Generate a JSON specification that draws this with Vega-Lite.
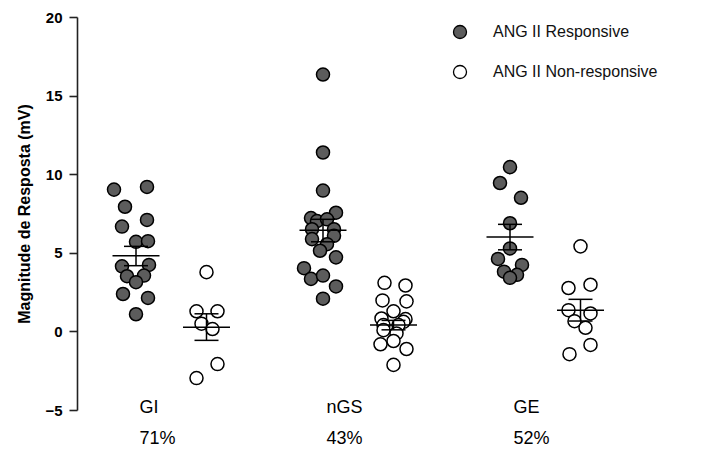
{
  "$schema": "https://vega.github.io/schema/vega-lite/v6.json",
  "width": 728,
  "height": 450,
  "autosize": {"type": "fit", "contains": "padding"},
  "padding": {"left": 16, "top": 10, "right": 90, "bottom": 3},
  "background": "white",
  "config": {
    "font": "Liberation Sans",
    "view": {"stroke": null},
    "axisY": {
      "domain": true, "domainColor": "#222222", "domainWidth": 1.6, "domainOpacity": 1,
      "ticks": true, "tickColor": "#222222", "tickWidth": 1.6, "tickSize": 8, "tickOpacity": 1,
      "grid": false, "zindex": 1
    }
  },
  "datasets": {
    "pts": [
      {"grp": "GI|71%", "type": "ANG II Responsive", "v": 9.02, "j": -1.1},
      {"grp": "GI|71%", "type": "ANG II Responsive", "v": 9.19, "j": 0.55},
      {"grp": "GI|71%", "type": "ANG II Responsive", "v": 7.93, "j": -0.55},
      {"grp": "GI|71%", "type": "ANG II Responsive", "v": 6.67, "j": -0.7},
      {"grp": "GI|71%", "type": "ANG II Responsive", "v": 7.09, "j": 0.55},
      {"grp": "GI|71%", "type": "ANG II Responsive", "v": 5.7, "j": 0},
      {"grp": "GI|71%", "type": "ANG II Responsive", "v": 5.74, "j": 0.6},
      {"grp": "GI|71%", "type": "ANG II Responsive", "v": 4.14, "j": -0.7},
      {"grp": "GI|71%", "type": "ANG II Responsive", "v": 4.23, "j": 0.65},
      {"grp": "GI|71%", "type": "ANG II Responsive", "v": 3.51, "j": -0.45},
      {"grp": "GI|71%", "type": "ANG II Responsive", "v": 3.55, "j": 0.4},
      {"grp": "GI|71%", "type": "ANG II Responsive", "v": 3.13, "j": 0},
      {"grp": "GI|71%", "type": "ANG II Responsive", "v": 2.38, "j": -0.65},
      {"grp": "GI|71%", "type": "ANG II Responsive", "v": 2.13, "j": 0.6},
      {"grp": "GI|71%", "type": "ANG II Responsive", "v": 1.09, "j": 0},
      {"grp": "GI|71%", "type": "ANG II Non-responsive", "v": 3.77, "j": 0},
      {"grp": "GI|71%", "type": "ANG II Non-responsive", "v": 1.28, "j": -0.5},
      {"grp": "GI|71%", "type": "ANG II Non-responsive", "v": 1.28, "j": 0.55},
      {"grp": "GI|71%", "type": "ANG II Non-responsive", "v": 0.49, "j": -0.25},
      {"grp": "GI|71%", "type": "ANG II Non-responsive", "v": 0.15, "j": 0.3},
      {"grp": "GI|71%", "type": "ANG II Non-responsive", "v": -2.08, "j": 0.55},
      {"grp": "GI|71%", "type": "ANG II Non-responsive", "v": -2.97, "j": -0.5},
      {"grp": "nGS|43%", "type": "ANG II Responsive", "v": 16.34, "j": 0},
      {"grp": "nGS|43%", "type": "ANG II Responsive", "v": 11.38, "j": 0},
      {"grp": "nGS|43%", "type": "ANG II Responsive", "v": 8.96, "j": 0},
      {"grp": "nGS|43%", "type": "ANG II Responsive", "v": 7.55, "j": 0.65},
      {"grp": "nGS|43%", "type": "ANG II Responsive", "v": 7.21, "j": -0.6},
      {"grp": "nGS|43%", "type": "ANG II Responsive", "v": 7.02, "j": -0.3},
      {"grp": "nGS|43%", "type": "ANG II Responsive", "v": 7.13, "j": 0.2},
      {"grp": "nGS|43%", "type": "ANG II Responsive", "v": 6.5, "j": -0.55},
      {"grp": "nGS|43%", "type": "ANG II Responsive", "v": 6.5, "j": 0.55},
      {"grp": "nGS|43%", "type": "ANG II Responsive", "v": 6.08, "j": 0.55},
      {"grp": "nGS|43%", "type": "ANG II Responsive", "v": 5.87, "j": -0.55},
      {"grp": "nGS|43%", "type": "ANG II Responsive", "v": 5.55, "j": 0.2},
      {"grp": "nGS|43%", "type": "ANG II Responsive", "v": 5.13, "j": -0.15},
      {"grp": "nGS|43%", "type": "ANG II Responsive", "v": 4.71, "j": 0.65},
      {"grp": "nGS|43%", "type": "ANG II Responsive", "v": 4.02, "j": -0.95},
      {"grp": "nGS|43%", "type": "ANG II Responsive", "v": 3.34, "j": -0.6},
      {"grp": "nGS|43%", "type": "ANG II Responsive", "v": 3.55, "j": 0},
      {"grp": "nGS|43%", "type": "ANG II Responsive", "v": 2.86, "j": 0.65},
      {"grp": "nGS|43%", "type": "ANG II Responsive", "v": 2.08, "j": 0},
      {"grp": "nGS|43%", "type": "ANG II Non-responsive", "v": 3.09, "j": -0.45},
      {"grp": "nGS|43%", "type": "ANG II Non-responsive", "v": 2.92, "j": 0.6},
      {"grp": "nGS|43%", "type": "ANG II Non-responsive", "v": 1.97, "j": -0.55},
      {"grp": "nGS|43%", "type": "ANG II Non-responsive", "v": 1.91, "j": 0.65},
      {"grp": "nGS|43%", "type": "ANG II Non-responsive", "v": 1.28, "j": 0},
      {"grp": "nGS|43%", "type": "ANG II Non-responsive", "v": 0.82, "j": -0.6},
      {"grp": "nGS|43%", "type": "ANG II Non-responsive", "v": 0.78, "j": 0.6},
      {"grp": "nGS|43%", "type": "ANG II Non-responsive", "v": 0.61, "j": 0.5},
      {"grp": "nGS|43%", "type": "ANG II Non-responsive", "v": 0.4, "j": -0.5},
      {"grp": "nGS|43%", "type": "ANG II Non-responsive", "v": 0.4, "j": 0.25},
      {"grp": "nGS|43%", "type": "ANG II Non-responsive", "v": 0.08, "j": -0.5},
      {"grp": "nGS|43%", "type": "ANG II Non-responsive", "v": -0.13, "j": 0.15},
      {"grp": "nGS|43%", "type": "ANG II Non-responsive", "v": -0.61, "j": 0},
      {"grp": "nGS|43%", "type": "ANG II Non-responsive", "v": -0.82, "j": -0.65},
      {"grp": "nGS|43%", "type": "ANG II Non-responsive", "v": -1.12, "j": 0.65},
      {"grp": "nGS|43%", "type": "ANG II Non-responsive", "v": -2.13, "j": 0},
      {"grp": "GE|52%", "type": "ANG II Responsive", "v": 10.45, "j": 0},
      {"grp": "GE|52%", "type": "ANG II Responsive", "v": 9.44, "j": -0.5},
      {"grp": "GE|52%", "type": "ANG II Responsive", "v": 8.5, "j": 0.55},
      {"grp": "GE|52%", "type": "ANG II Responsive", "v": 6.88, "j": 0},
      {"grp": "GE|52%", "type": "ANG II Responsive", "v": 5.28, "j": 0},
      {"grp": "GE|52%", "type": "ANG II Responsive", "v": 4.61, "j": -0.6},
      {"grp": "GE|52%", "type": "ANG II Responsive", "v": 4.23, "j": 0.6},
      {"grp": "GE|52%", "type": "ANG II Responsive", "v": 3.8, "j": -0.3},
      {"grp": "GE|52%", "type": "ANG II Responsive", "v": 3.6, "j": 0.35},
      {"grp": "GE|52%", "type": "ANG II Responsive", "v": 3.41, "j": 0},
      {"grp": "GE|52%", "type": "ANG II Non-responsive", "v": 5.41, "j": 0},
      {"grp": "GE|52%", "type": "ANG II Non-responsive", "v": 2.76, "j": -0.6},
      {"grp": "GE|52%", "type": "ANG II Non-responsive", "v": 2.97, "j": 0.5},
      {"grp": "GE|52%", "type": "ANG II Non-responsive", "v": 1.35, "j": -0.6},
      {"grp": "GE|52%", "type": "ANG II Non-responsive", "v": 1.14, "j": 0.5},
      {"grp": "GE|52%", "type": "ANG II Non-responsive", "v": 0.65, "j": -0.3},
      {"grp": "GE|52%", "type": "ANG II Non-responsive", "v": 0.23, "j": 0.25},
      {"grp": "GE|52%", "type": "ANG II Non-responsive", "v": -0.86, "j": 0.5},
      {"grp": "GE|52%", "type": "ANG II Non-responsive", "v": -1.45, "j": -0.55}
    ],
    "summ": [
      {"grp": "GI|71%", "type": "ANG II Responsive", "mean": 4.82, "lo": 4.18, "hi": 5.41},
      {"grp": "GI|71%", "type": "ANG II Non-responsive", "mean": 0.27, "lo": -0.57, "hi": 1.12},
      {"grp": "nGS|43%", "type": "ANG II Responsive", "mean": 6.44, "lo": 5.7, "hi": 7.13},
      {"grp": "nGS|43%", "type": "ANG II Non-responsive", "mean": 0.4, "lo": 0.1, "hi": 0.7},
      {"grp": "GE|52%", "type": "ANG II Responsive", "mean": 6.01, "lo": 5.19, "hi": 6.81},
      {"grp": "GE|52%", "type": "ANG II Non-responsive", "mean": 1.35, "lo": 0.66, "hi": 2.04}
    ]
  },
  "encoding": {
    "x": {
      "field": "grp", "type": "nominal",
      "scale": {"domain": ["GI|71%", "nGS|43%", "GE|52%"], "paddingInner": 0, "paddingOuter": 0},
      "axis": {
        "title": null, "domain": false, "ticks": false, "grid": false,
        "labelExpr": "split(datum.label, '|')",
        "labelAngle": 0, "labelAlign": "left", "labelOffset": -31,
        "labelBaseline": "top", "labelPadding": -12, "labelLineHeight": 31,
        "labelFontSize": 18, "labelColor": "#000000", "labelFont": "Liberation Sans"
      }
    }
  },
  "layer": [
    {
      "data": {"name": "pts"},
      "transform": [{"filter": "datum.type == 'ANG II Responsive'"}],
      "mark": {"type": "circle", "size": 170, "stroke": "#000000", "strokeWidth": 1.5, "opacity": 1},
      "encoding": {
        "y": {
          "field": "v", "type": "quantitative",
          "scale": {"domain": [-5, 20], "nice": false, "zero": false},
          "axis": {
            "values": [-5, 0, 5, 10, 15, 20],
            "title": "Magnitude de Resposta (mV)",
            "titleFontSize": 16, "titleFontWeight": "bold", "titleColor": "#000000", "titlePadding": 12,
            "labelFontSize": 15, "labelFontWeight": "bold", "labelColor": "#000000", "labelPadding": 7,
            "domain": true, "ticks": true
          }
        },
        "xOffset": {"field": "j", "type": "quantitative", "scale": {"domain": [-1, 1], "range": [39, 79]}},
        "fill": {
          "field": "type", "type": "nominal",
          "scale": {"domain": ["ANG II Responsive", "ANG II Non-responsive"], "range": ["#5c5c5c", "#ffffff"]},
          "legend": {
            "title": null, "orient": "none", "legendX": 375, "legendY": 7, "padding": 0,
            "symbolType": "circle", "symbolSize": 170, "symbolStrokeColor": "#000000", "symbolStrokeWidth": 1.3,
            "labelFontSize": 16, "labelColor": "#111111", "labelOffset": 25, "rowPadding": 20,
            "labelLimit": 0, "labelFont": "Liberation Sans"
          }
        }
      }
    },
    {
      "data": {"name": "summ"},
      "transform": [{"filter": "datum.type == 'ANG II Responsive'"}],
      "mark": {"type": "rule", "color": "#000000", "strokeWidth": 1.5},
      "encoding": {
        "y": {"field": "lo", "type": "quantitative"},
        "y2": {"field": "hi"},
        "xOffset": {"datum": 0, "type": "quantitative", "scale": {"domain": [-1, 1], "range": [39, 79]}}
      }
    },
    {
      "data": {"name": "summ"},
      "transform": [{"filter": "datum.type == 'ANG II Responsive'"}],
      "mark": {"type": "tick", "color": "#000000", "size": 47, "thickness": 1.5, "opacity": 1},
      "encoding": {
        "y": {"field": "mean", "type": "quantitative"},
        "xOffset": {"datum": 0, "type": "quantitative", "scale": {"domain": [-1, 1], "range": [39, 79]}}
      }
    },
    {
      "data": {"name": "summ"},
      "transform": [{"filter": "datum.type == 'ANG II Responsive'"}],
      "mark": {"type": "tick", "color": "#000000", "size": 24, "thickness": 1.5, "opacity": 1},
      "encoding": {
        "y": {"field": "lo", "type": "quantitative"},
        "xOffset": {"datum": 0, "type": "quantitative", "scale": {"domain": [-1, 1], "range": [39, 79]}}
      }
    },
    {
      "data": {"name": "summ"},
      "transform": [{"filter": "datum.type == 'ANG II Responsive'"}],
      "mark": {"type": "tick", "color": "#000000", "size": 24, "thickness": 1.5, "opacity": 1},
      "encoding": {
        "y": {"field": "hi", "type": "quantitative"},
        "xOffset": {"datum": 0, "type": "quantitative", "scale": {"domain": [-1, 1], "range": [39, 79]}}
      }
    },
    {
      "data": {"name": "pts"},
      "transform": [{"filter": "datum.type == 'ANG II Non-responsive'"}],
      "mark": {"type": "circle", "size": 170, "stroke": "#000000", "strokeWidth": 1.5, "opacity": 1},
      "encoding": {
        "y": {"field": "v", "type": "quantitative"},
        "xOffset": {"field": "j", "type": "quantitative", "scale": {"domain": [-1, 1], "range": [109.5, 149.5]}},
        "fill": {"field": "type", "type": "nominal"}
      }
    },
    {
      "data": {"name": "summ"},
      "transform": [{"filter": "datum.type == 'ANG II Non-responsive'"}],
      "mark": {"type": "rule", "color": "#000000", "strokeWidth": 1.5},
      "encoding": {
        "y": {"field": "lo", "type": "quantitative"},
        "y2": {"field": "hi"},
        "xOffset": {"datum": 0, "type": "quantitative", "scale": {"domain": [-1, 1], "range": [109.5, 149.5]}}
      }
    },
    {
      "data": {"name": "summ"},
      "transform": [{"filter": "datum.type == 'ANG II Non-responsive'"}],
      "mark": {"type": "tick", "color": "#000000", "size": 47, "thickness": 1.5, "opacity": 1},
      "encoding": {
        "y": {"field": "mean", "type": "quantitative"},
        "xOffset": {"datum": 0, "type": "quantitative", "scale": {"domain": [-1, 1], "range": [109.5, 149.5]}}
      }
    },
    {
      "data": {"name": "summ"},
      "transform": [{"filter": "datum.type == 'ANG II Non-responsive'"}],
      "mark": {"type": "tick", "color": "#000000", "size": 24, "thickness": 1.5, "opacity": 1},
      "encoding": {
        "y": {"field": "lo", "type": "quantitative"},
        "xOffset": {"datum": 0, "type": "quantitative", "scale": {"domain": [-1, 1], "range": [109.5, 149.5]}}
      }
    },
    {
      "data": {"name": "summ"},
      "transform": [{"filter": "datum.type == 'ANG II Non-responsive'"}],
      "mark": {"type": "tick", "color": "#000000", "size": 24, "thickness": 1.5, "opacity": 1},
      "encoding": {
        "y": {"field": "hi", "type": "quantitative"},
        "xOffset": {"datum": 0, "type": "quantitative", "scale": {"domain": [-1, 1], "range": [109.5, 149.5]}}
      }
    },
    {
      "mark": {"type": "rule", "color": "#000000", "strokeWidth": 1.5},
      "encoding": {
        "x": null,
        "y": {"datum": 0, "type": "quantitative"}
      }
    }
  ],
  "resolve": {"scale": {"xOffset": "independent"}}
}
